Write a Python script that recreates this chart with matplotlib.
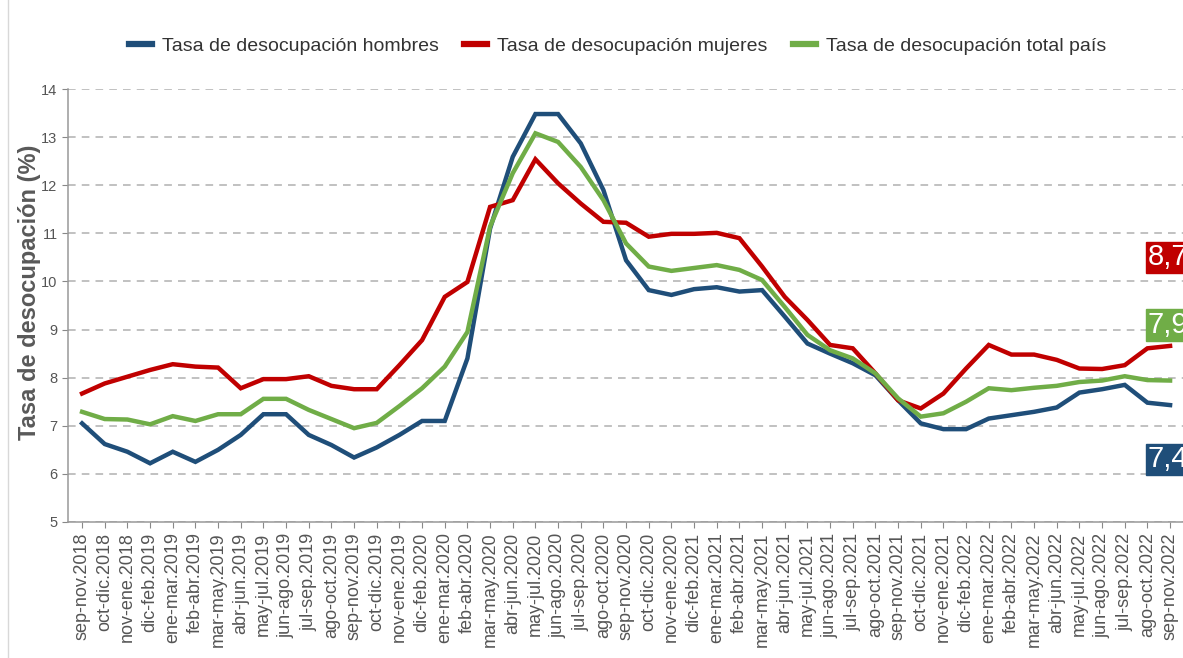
import matplotlib
matplotlib.use("Agg")
import matplotlib.pyplot as plt
from matplotlib.lines import Line2D

plt.rcParams["font.family"] = ["Liberation Sans", "DejaVu Sans"]

# ---------------------------------------------------------------------------
# Data
# ---------------------------------------------------------------------------
periodos = [
    "sep-nov.2018", "oct-dic.2018", "nov-ene.2018", "dic-feb.2019", "ene-mar.2019",
    "feb-abr.2019", "mar-may.2019", "abr-jun.2019", "may-jul.2019", "jun-ago.2019",
    "jul-sep.2019", "ago-oct.2019", "sep-nov.2019", "oct-dic.2019", "nov-ene.2019",
    "dic-feb.2020", "ene-mar.2020", "feb-abr.2020", "mar-may.2020", "abr-jun.2020",
    "may-jul.2020", "jun-ago.2020", "jul-sep.2020", "ago-oct.2020", "sep-nov.2020",
    "oct-dic.2020", "nov-ene.2020", "dic-feb.2021", "ene-mar.2021", "feb-abr.2021",
    "mar-may.2021", "abr-jun.2021", "may-jul.2021", "jun-ago.2021", "jul-sep.2021",
    "ago-oct.2021", "sep-nov.2021", "oct-dic.2021", "nov-ene.2021", "dic-feb.2022",
    "ene-mar.2022", "feb-abr.2022", "mar-may.2022", "abr-jun.2022", "may-jul.2022",
    "jun-ago.2022", "jul-sep.2022", "ago-oct.2022", "sep-nov.2022",
]

hombres = [
    7.05, 6.62, 6.46, 6.22, 6.46, 6.25, 6.50, 6.81, 7.24, 7.24,
    6.81, 6.60, 6.34, 6.55, 6.81, 7.10, 7.10, 8.40, 11.10, 12.59,
    13.48, 13.48, 12.87, 11.90, 10.44, 9.82, 9.72, 9.84, 9.88, 9.79,
    9.82, 9.27, 8.71, 8.50, 8.30, 8.05, 7.53, 7.05, 6.93, 6.93,
    7.15, 7.22, 7.29, 7.38, 7.69, 7.76, 7.85, 7.48, 7.43,
]

mujeres = [
    7.67, 7.88, 8.02, 8.16, 8.28, 8.23, 8.21, 7.78, 7.97, 7.97,
    8.03, 7.83, 7.76, 7.76, 8.26, 8.78, 9.68, 9.99, 11.55, 11.69,
    12.54, 12.04, 11.62, 11.24, 11.22, 10.93, 10.99, 10.99, 11.01, 10.90,
    10.31, 9.68, 9.20, 8.68, 8.61, 8.09, 7.53, 7.36, 7.67, 8.19,
    8.68, 8.48, 8.48, 8.37, 8.19, 8.18, 8.26, 8.61, 8.66,
]

total = [
    7.29, 7.14, 7.13, 7.03, 7.20, 7.10, 7.24, 7.24, 7.56, 7.56,
    7.33, 7.14, 6.95, 7.06, 7.41, 7.78, 8.23, 8.95, 11.14, 12.25,
    13.08, 12.90, 12.38, 11.69, 10.79, 10.31, 10.22, 10.28, 10.34, 10.24,
    10.03, 9.47, 8.89, 8.57, 8.40, 8.09, 7.57, 7.19, 7.26, 7.50,
    7.78, 7.74, 7.79, 7.83, 7.91, 7.94, 8.03, 7.95, 7.94,
]

# final values shown in the boxes at the right and where the boxes sit
etiquetas = ["7,4", "8,7", "7,9"]
etiqueta_y = [6.3, 10.5, 9.1]

nombres = ["Tasa de desocupación hombres", "Tasa de desocupación mujeres",
           "Tasa de desocupación total país"]
colores = ["#1f4e79", "#c00000", "#70ad47"]
valores = [hombres, mujeres, total]

# ---------------------------------------------------------------------------
# Plot
# ---------------------------------------------------------------------------
fig = plt.figure(figsize=(11.83, 6.58), dpi=100)
ax = fig.add_axes([0.0575, 0.2067, 0.9425, 0.658])

x = list(range(len(periodos)))
for name, vals, color in zip(nombres, valores, colores):
    ax.plot(x, vals, color=color, lw=3.2, solid_joinstyle="miter", label=name)

# end labels (clipped by the right edge as in the original)
for lab, ylab, color in zip(etiquetas, etiqueta_y, colores):
    ax.text(47.0, ylab, lab, color="white", fontsize=21, va="center", ha="left",
            clip_on=False,
            bbox=dict(boxstyle="square,pad=0.06", fc=color, ec=color))

ax.set_xlim(-0.62, 48.57)
ax.set_ylim(5, 14)
ax.set_yticks(range(5, 15))
ax.set_xticks(x)
ax.set_xticklabels(periodos, rotation=90, fontsize=13, color="#555555")
ax.tick_params(axis="y", labelsize=10.5, colors="#555555", length=4, color="#888888")
ax.tick_params(axis="x", length=4, color="#888888")

ax.grid(axis="y", ls=(0, (5, 4)), color="#b0b0b0", lw=1.1)
ax.set_axisbelow(True)
for side in ["top", "right"]:
    ax.spines[side].set_visible(False)
for side in ["left", "bottom"]:
    ax.spines[side].set_color("#999999")
    ax.spines[side].set_linewidth(1.1)

ax.set_ylabel("Tasa de desocupación (%)", fontsize=17, fontweight="bold",
              color="#595959", labelpad=6)
ax.yaxis.set_label_coords(-0.024, 0.53)

handles = [Line2D([0], [0], color=c, lw=4.5) for c in colores]
leg = fig.legend(handles, nombres, loc="center",
                 bbox_to_anchor=(0.522, 0.93), ncol=3, frameon=False,
                 fontsize=14, handlelength=1.2, columnspacing=1.3,
                 handletextpad=0.5)
for t in leg.get_texts():
    t.set_color("#333333")

# thin frame line at left border
fig.add_artist(Line2D([0.007, 0.007], [0.0, 1.0], transform=fig.transFigure,
                      color="#d8d8d8", lw=1))

fig.savefig("out.png", dpi=100)
